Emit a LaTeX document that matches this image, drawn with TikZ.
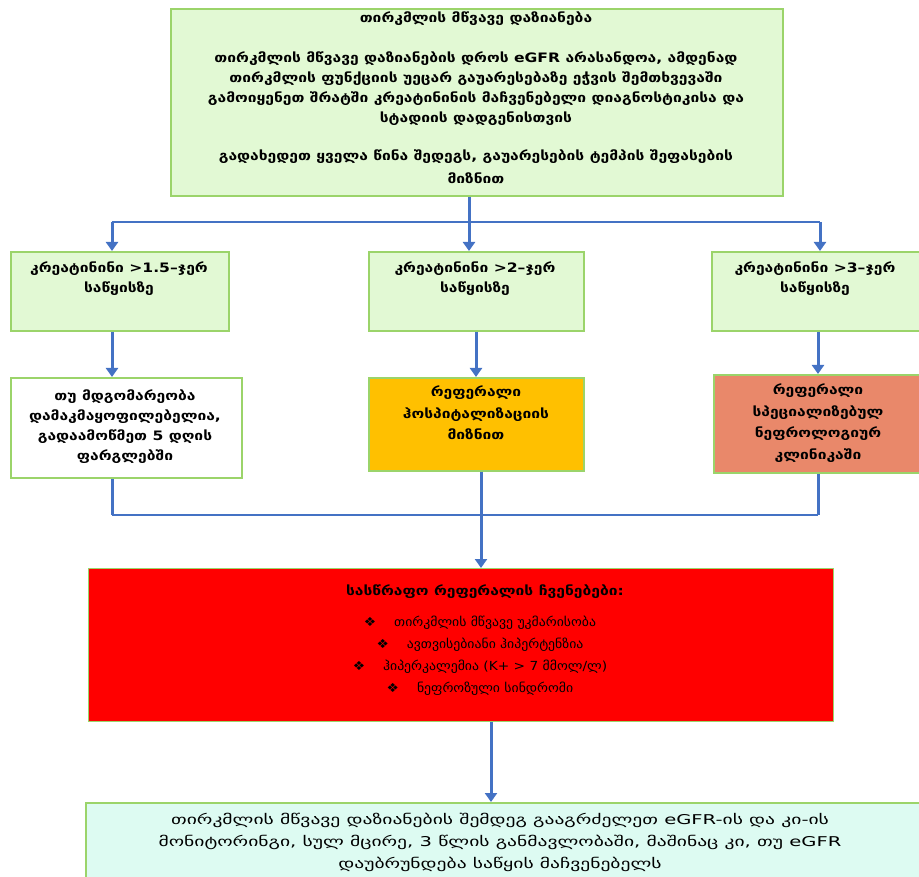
\documentclass[tikz,border=0pt]{standalone}
\usepackage{fontspec}
\setmainfont[FakeStretch=1.2]{DejaVu Sans}
\newfontfamily\listfont[FakeStretch=1.1]{DejaVu Sans}
\newfontfamily\notefont[FakeStretch=1.45]{DejaVu Sans}
\usetikzlibrary{arrows.meta,positioning}
\definecolor{boxgreen}{HTML}{E2F9D4}
\definecolor{edgegreen}{HTML}{9BD46A}
\definecolor{linkblue}{HTML}{4472C4}
\definecolor{amber}{HTML}{FFC000}
\definecolor{salmon}{HTML}{E9886A}
\definecolor{alarm}{HTML}{FF0000}
\definecolor{mint}{HTML}{DDFBF2}
\tikzset{
  panel/.style={draw=edgegreen, line width=1.8pt, fill=boxgreen, anchor=north west, inner sep=0pt},
  words/.style={align=center, inner sep=0pt, anchor=north, font=\fontsize{13}{20}\selectfont\bfseries},
  link/.style={draw=linkblue, line width=3pt},
  hlink/.style={draw=linkblue, line width=2.4pt},
  tip/.style={-{Triangle[width=12pt,length=9pt]}}
}
\begin{document}
\begin{tikzpicture}[x=1pt,y=-1pt]
\useasboundingbox (0,0) rectangle (919,877);

% top panel
\node[panel, minimum width=612pt, minimum height=187pt] (top) at (170,8) {};
\node[words] (toptxt) at (476,12) {თირკმლის მწვავე დაზიანება\\[20pt]
თირკმლის მწვავე დაზიანების დროს eGFR არასანდოა, ამდენად\\
თირკმლის ფუნქციის უეცარ გაუარესებაზე ეჭვის შემთხვევაში\\
გამოიყენეთ შრატში კრეატინინის მაჩვენებელი დიაგნოსტიკისა და\\
სტადიის დადგენისთვის\\[18pt]
გადახედეთ ყველა წინა შედეგს, გაუარესების ტემპის შეფასების\\[3pt]
მიზნით};

% second row
\node[panel, minimum width=218pt, minimum height=79pt] (c1) at (10,251) {};
\node[panel, minimum width=215pt, minimum height=79pt] (c2) at (368,251) {};
\node[panel, minimum width=210pt, minimum height=79pt] (c3) at (711,251) {};
\node[words] at (119,262) {კრეატინინი >1.5–ჯერ\\საწყისზე};
\node[words] at (475,262) {კრეატინინი >2–ჯერ\\საწყისზე};
\node[words] at (815,262) {კრეატინინი >3–ჯერ\\საწყისზე};

% third row
\node[panel, fill=white, minimum width=231pt, minimum height=100pt] (d1) at (10,377) {};
\node[panel, fill=amber, minimum width=215pt, minimum height=93pt] (d2) at (368,377) {};
\node[panel, fill=salmon, minimum width=208pt, minimum height=98pt] (d3) at (713,374) {};
\node[words] at (125,390) {თუ მდგომარეობა\\დამაკმაყოფილებელია,\\გადაამოწმეთ 5 დღის\\ფარგლებში};
\node[words, font=\fontsize{13}{21.5}\selectfont\bfseries] at (476,386) {რეფერალი\\ჰოსპიტალიზაციის\\მიზნით};
\node[words, font=\fontsize{13}{21.5}\selectfont\bfseries] at (818,384) {რეფერალი\\სპეციალიზებულ\\ნეფროლოგიურ\\კლინიკაში};

% urgent referral panel
\node[panel, fill=alarm, line width=1pt, minimum width=745pt, minimum height=153pt] (urg) at (88,568) {};
\node[words] at (485,585) {სასწრაფო რეფერალის ჩვენებები:};
\node[words, font=\listfont\fontsize{12.5}{22}\selectfont] (list) at (480,616) {%
❖\hspace{18pt}თირკმლის მწვავე უკმარისობა\\
❖\hspace{18pt}ავთვისებიანი ჰიპერტენზია\\
❖\hspace{18pt}ჰიპერკალემია (K+ > 7 მმოლ/ლ)\\
❖\hspace{18pt}ნეფროზული სინდრომი};

% follow-up panel
\node[panel, fill=mint, minimum width=840pt, minimum height=80pt] (fol) at (85,802) {};
\node[words, font=\notefont\fontsize{13.5}{22}\selectfont] at (500,813) {თირკმლის მწვავე დაზიანების შემდეგ გააგრძელეთ eGFR-ის და კი-ის\\
მონიტორინგი, სულ მცირე, 3 წლის განმავლობაში, მაშინაც კი, თუ eGFR\\
დაუბრუნდება საწყის მაჩვენებელს};

% connectors from the top panel
\coordinate (split) at (469,222);
\coordinate (splitL) at (112,222);
\coordinate (splitR) at (820,222);
\draw[link,tip] (top.south -| split) -- (split |- c2.north);
\draw[hlink] (splitL) -- (splitR);
\draw[link,tip] (splitL) -- (splitL |- c1.north);
\draw[link,tip] (splitR) -- (splitR |- c3.north);

% second row to third row
\coordinate (v1) at (112,0);
\coordinate (v2) at (476,0);
\coordinate (v3) at (818,0);
\draw[link,tip] (v1 |- c1.south) -- (v1 |- d1.north);
\draw[link,tip] (v2 |- c2.south) -- (v2 |- d2.north);
\draw[link,tip] (v3 |- c3.south) -- (v3 |- d3.north);

% merge into the urgent panel
\coordinate (mergeL) at (112,515);
\coordinate (mergeR) at (818,515);
\coordinate (mid) at (481,0);
\draw[link] (v1 |- d1.south) -- (mergeL);
\draw[link] (v3 |- d3.south) -- (mergeR);
\draw[hlink] (mergeL) -- (mergeR);
\draw[link,tip] (mid |- d2.south) -- (mid |- urg.north);

% urgent panel to follow-up
\coordinate (low) at (491,0);
\draw[link,tip] (low |- urg.south) -- (low |- fol.north);
\end{tikzpicture}
\end{document}
